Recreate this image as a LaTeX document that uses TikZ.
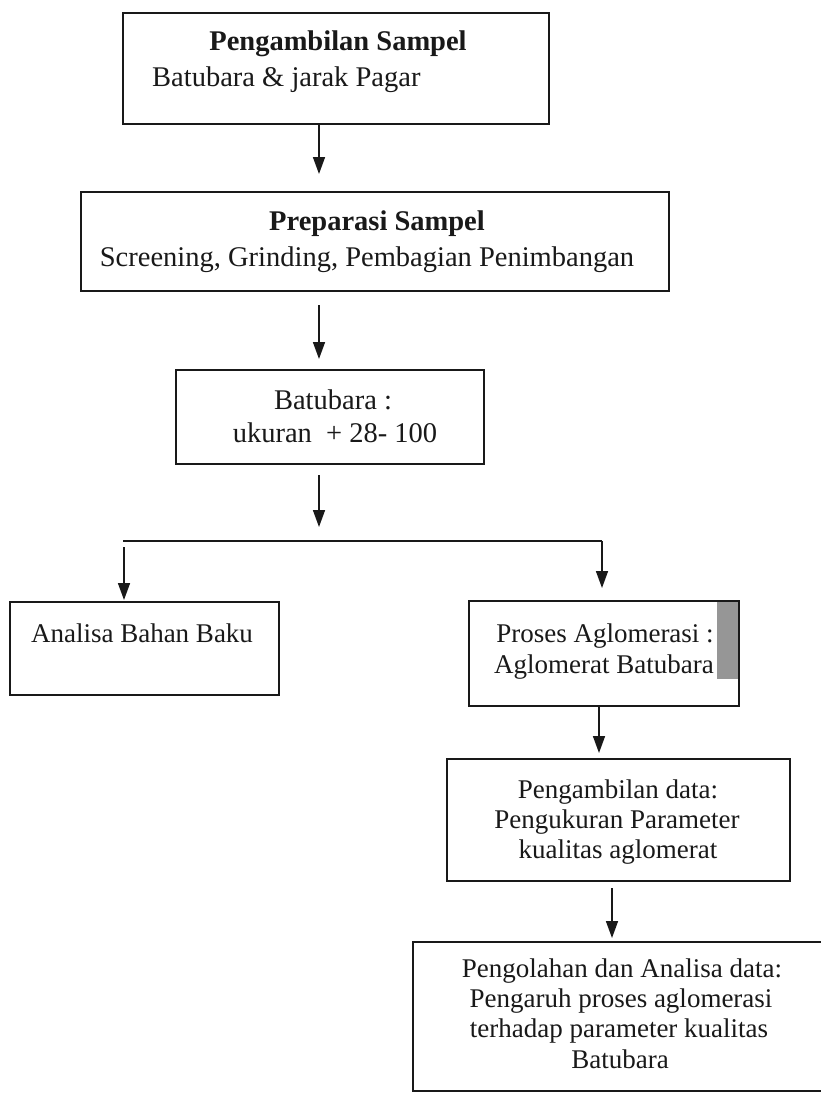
\documentclass[tikz,border=0pt]{standalone}
\usepackage{fontspec}
\setmainfont{Liberation Serif}
\usetikzlibrary{arrows.meta}
\definecolor{ink}{RGB}{25,25,25}
\definecolor{bargray}{RGB}{150,150,150}
\begin{document}
\begin{tikzpicture}[x=1pt,y=-1pt,
  box/.style={draw=ink, line width=1.6pt, rectangle, inner sep=0pt},
  arr/.style={draw=ink, line width=1.6pt, -{Triangle[length=17pt,width=12pt]}},
  ln/.style={draw=ink, line width=1.6pt},
  big/.style={font=\fontsize{28.5}{34}\selectfont, text=ink, inner sep=0pt},
  bigb/.style={font=\fontsize{28.5}{34}\selectfont\bfseries, text=ink, inner sep=0pt},
  small/.style={font=\fontsize{27}{31}\selectfont, text=ink, inner sep=0pt},
]
\useasboundingbox (0,0) rectangle (820,1093);
\fill[white] (0,0) rectangle (820,1093);

% boxes
\node[box, minimum width=426pt, minimum height=111pt] (b1) at (336,68.5) {};
\node[box, minimum width=588pt, minimum height=99pt] (b2) at (375,241.5) {};
\node[box, minimum width=308pt, minimum height=94pt] (b3) at (330,417) {};
\node[box, minimum width=269pt, minimum height=93pt] (b4) at (144.5,648.5) {};
\fill[bargray] (717,601) rectangle (739,679);
\node[box, minimum width=270pt, minimum height=105pt] (b5) at (604,653.5) {};
\node[box, minimum width=343pt, minimum height=122pt] (b6) at (618.5,820) {};
\node[box, minimum width=427pt, minimum height=149pt] (b7) at (626.5,1016.5) {};

% texts
\node[bigb, anchor=base] (t1a) at (338,50) {Pengambilan Sampel};
\node[big, anchor=base west] (t1b) at (152,86) {Batubara \& jarak Pagar};
\node[bigb, anchor=base] (t2a) at (377,230) {Preparasi Sampel};
\node[big, anchor=base] (t2b) at (367,266) {Screening, Grinding, Pembagian Penimbangan};
\node[big, anchor=base] (t3a) at (333,409) {Batubara :};
\node[big, anchor=base] (t3b) at (335,442) {ukuran\ \ + 28- 100};
\node[small, anchor=base] (t4a) at (142,642) {Analisa Bahan Baku};
\node[small, anchor=base] (t5a) at (605,642) {Proses Aglomerasi :};
\node[small, anchor=base] (t5b) at (604,673) {Aglomerat Batubara};
\node[small, anchor=base] (t6a) at (618,798) {Pengambilan data:};
\node[small, anchor=base] (t6b) at (617,828) {Pengukuran Parameter};
\node[small, anchor=base] (t6c) at (618,858) {kualitas aglomerat};
\node[small, anchor=base] (t7a) at (622,977) {Pengolahan dan Analisa data:};
\node[small, anchor=base] (t7b) at (621,1007) {Pengaruh proses aglomerasi};
\node[small, anchor=base] (t7c) at (619,1037) {terhadap parameter kualitas};
\node[small, anchor=base] (t7d) at (620,1068) {Batubara};

% connector points
\coordinate (a1s) at (319,124);
\coordinate (a1e) at (319,174);
\coordinate (a2s) at (319,305);
\coordinate (a2e) at (319,359);
\coordinate (a3s) at (319,475);
\coordinate (a3e) at (319,527);
\coordinate (hl) at (123,541);
\coordinate (hr) at (602,541);
\coordinate (l4s) at (124,547);
\coordinate (l4e) at (124,600);
\coordinate (r5e) at (602,588);
\coordinate (a6s) at (599,706);
\coordinate (a6e) at (599,753);
\coordinate (a7s) at (612,888);
\coordinate (a7e) at (612,938);

\draw[arr] (a1s) -- (a1e);
\draw[arr] (a2s) -- (a2e);
\draw[arr] (a3s) -- (a3e);
\draw[ln] (hl) -- (hr);
\draw[arr] (hr) -- (r5e);
\draw[arr] (l4s) -- (l4e);
\draw[arr] (a6s) -- (a6e);
\draw[arr] (a7s) -- (a7e);
\end{tikzpicture}
\end{document}
